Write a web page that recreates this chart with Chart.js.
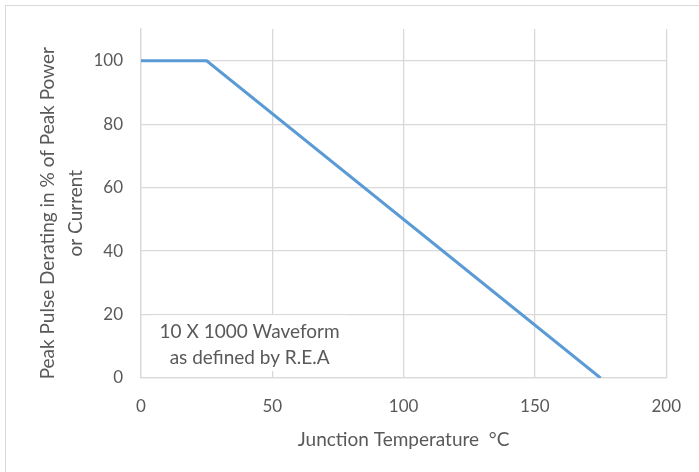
<!DOCTYPE html>
<html>
<head>
<meta charset="utf-8">
<script src="https://cdn.jsdelivr.net/npm/chart.js@4"></script>
<style>
  html, body { margin: 0; padding: 0; background: #fff; overflow: hidden; }
  #wrap { position: relative; width: 699px; height: 472px; }
  #frame { position: absolute; left: 5px; top: 5px; width: 720px; height: 500px; border: 1.5px solid #d9d9d9; }
  canvas { position: absolute; left: 0; top: 0; }
</style>
</head>
<body>
<div id="wrap">
  <div id="frame"></div>
  <canvas id="derating" width="699" height="472"></canvas>
</div>
<script>
// Junction temperature (°C) vs. peak pulse derating (%)
const temperature = [0, 25, 175];
const derating = [100, 100, 0];

const xTicks = [0, 50, 100, 150, 200];
const yTicks = [0, 20, 40, 60, 80, 100];

const noteLines = ['10 X 1000 Waveform', 'as defined by R.E.A'];

const gridGray = '#d9d9d9';
const textGray = '#595959';
const fontFamily = 'Lato, "Open Sans", sans-serif';

// White note box sitting over the grid, lower left of the plot
const noteBox = {
    id: 'noteBox',
    beforeDatasetsDraw(chart) {
        const { ctx, scales: { x, y } } = chart;
        const left = x.getPixelForValue(4.2);
        const right = x.getPixelForValue(78.5);
        const top = y.getPixelForValue(19.8);
        const bottom = y.getPixelForValue(2.2);
        ctx.save();
        ctx.fillStyle = '#fff';
        ctx.fillRect(left, top, right - left, bottom - top);
        ctx.fillStyle = textGray;
        ctx.font = '19px ' + fontFamily;
        ctx.textAlign = 'center';
        ctx.textBaseline = 'middle';
        const cx = (left + right) / 2;
        ctx.fillText(noteLines[0], cx, y.getPixelForValue(14.5));
        ctx.fillText(noteLines[1], cx, y.getPixelForValue(6.3));
        ctx.restore();
    }
};

window.addEventListener('DOMContentLoaded', () => {
    const ctx = document.getElementById('derating').getContext('2d');
    new Chart(ctx, {
        type: 'scatter',
        data: {
            datasets: [{
                data: temperature.map((t, i) => ({ x: t, y: derating[i] })),
                showLine: true,
                borderColor: '#5b9bd5',
                borderWidth: 3,
                pointRadius: 0,
                tension: 0
            }]
        },
        options: {
            responsive: false,
            animation: false,
            layout: { padding: { left: 0, top: 29, right: 31, bottom: 0 } },
            plugins: { legend: { display: false }, tooltip: { enabled: false } },
            scales: {
                x: {
                    type: 'linear',
                    min: 0,
                    max: 200,
                    afterBuildTicks: s => { s.ticks = xTicks.map(v => ({ value: v })); },
                    afterFit: s => { s.height = 94; },
                    grid: { color: gridGray, lineWidth: 1.3, drawTicks: false },
                    border: { color: gridGray, width: 1.3 },
                    ticks: { color: textGray, font: { family: fontFamily, size: 17 }, padding: 18, maxRotation: 0 },
                    title: {
                        display: true,
                        text: 'Junction Temperature  °C',
                        color: textGray,
                        font: { family: fontFamily, size: 19 },
                        padding: { top: 0, bottom: 21 }
                    }
                },
                y: {
                    min: 0,
                    max: 110,
                    afterBuildTicks: s => { s.ticks = yTicks.map(v => ({ value: v })); },
                    afterFit: s => { s.width = 141; },
                    grid: { color: gridGray, lineWidth: 1.3, drawTicks: false },
                    border: { color: gridGray, width: 1.3 },
                    ticks: { color: textGray, font: { family: fontFamily, size: 17 }, padding: 18 },
                    title: {
                        display: true,
                        // trailing spaces nudge the rotated title down a little
                        text: ['Peak Pulse Derating in % of Peak Power    ', 'or Current    '],
                        color: textGray,
                        font: { family: fontFamily, size: 19, lineHeight: 1.47 },
                        padding: { top: 34, bottom: 0 }
                    }
                }
            }
        },
        plugins: [noteBox]
    });
});
</script>
</body>
</html>
